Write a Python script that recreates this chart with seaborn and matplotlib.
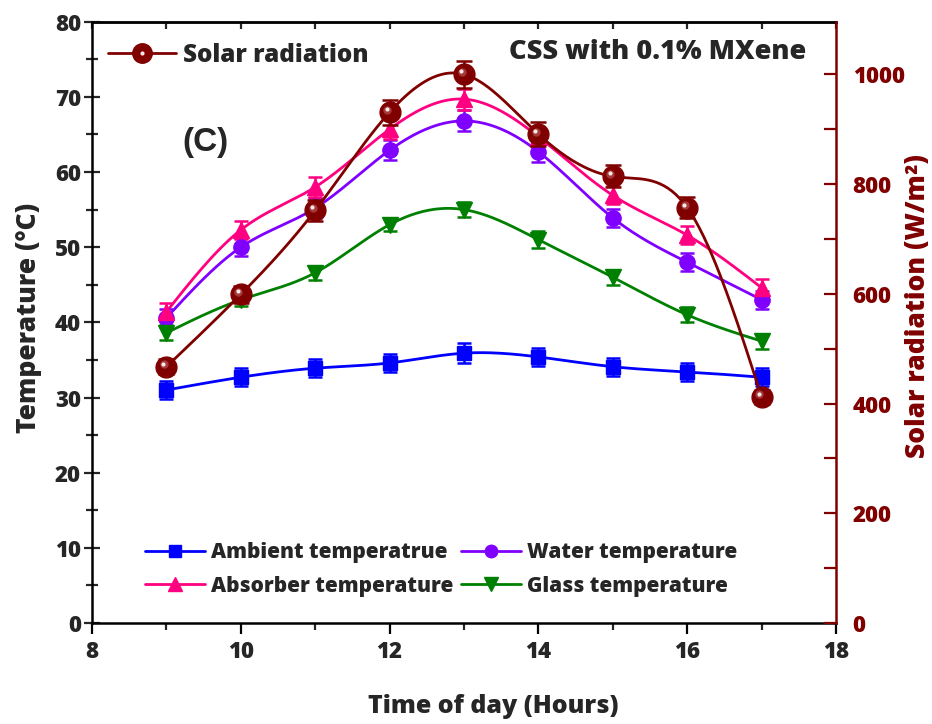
import numpy as np
import matplotlib
matplotlib.use("Agg")
import matplotlib.pyplot as plt
import seaborn as sns
from matplotlib import font_manager as fm
from matplotlib.lines import Line2D
from matplotlib.transforms import offset_copy

# ---- data -------------------------------------------------------------
hours = [9, 10, 11, 12, 13, 14, 15, 16, 17]

ambient = [31.0, 32.7, 33.9, 34.6, 35.9, 35.4, 34.1, 33.4, 32.7]
water = [40.6, 50.0, 55.2, 62.9, 66.8, 62.7, 53.9, 48.0, 43.0]
absorber = [41.4, 52.3, 58.0, 65.7, 69.7, 64.7, 56.9, 51.6, 44.6]
glass = [38.6, 43.0, 46.6, 53.0, 55.0, 51.0, 46.0, 41.0, 37.5]
solar = [467, 599, 752, 931, 1000, 891, 814, 757, 412]

ambient_err = [1.2, 1.2, 1.2, 1.2, 1.3, 1.2, 1.2, 1.2, 1.2]
water_err = [1.2, 1.2, 1.3, 1.3, 1.4, 1.3, 1.2, 1.2, 1.2]
absorber_err = [1.2, 1.2, 1.3, 1.3, 1.4, 1.3, 1.2, 1.2, 1.2]
glass_err = [1.0, 0.8, 0.9, 0.9, 1.0, 1.1, 1.0, 1.0, 1.0]
solar_err = [14, 16, 19, 23, 25, 22, 20, 19, 13]

series_names = ["Ambient temperatrue", "Water temperature",
                "Absorber temperature", "Glass temperature"]

# ---- fonts ------------------------------------------------------------
sns.set_style("ticks")
plt.rcParams["font.family"] = ["Open Sans", "DejaVu Sans"]


def fp(size):
    return fm.FontProperties(family=["Open Sans", "DejaVu Sans"],
                             weight=800, size=size)


def arial_bold(size):
    return fm.FontProperties(family="Liberation Sans", weight="bold", size=size)


# ---- helpers ----------------------------------------------------------
def natural_spline(x, y, num=300):
    """Natural cubic spline through the points, for a smooth connecting line."""
    x = np.asarray(x, float)
    y = np.asarray(y, float)
    n = len(x)
    h = np.diff(x)
    A = np.zeros((n, n))
    b = np.zeros(n)
    A[0, 0] = A[-1, -1] = 1.0
    for i in range(1, n - 1):
        A[i, i - 1] = h[i - 1]
        A[i, i] = 2 * (h[i - 1] + h[i])
        A[i, i + 1] = h[i]
        b[i] = 6 * ((y[i + 1] - y[i]) / h[i] - (y[i] - y[i - 1]) / h[i - 1])
    M = np.linalg.solve(A, b)
    xs = np.linspace(x[0], x[-1], num)
    idx = np.clip(np.searchsorted(x, xs) - 1, 0, n - 2)
    x0, x1 = x[idx], x[idx + 1]
    hh = x1 - x0
    t0, t1 = x1 - xs, xs - x0
    ys = (M[idx] * t0 ** 3 / (6 * hh) + M[idx + 1] * t1 ** 3 / (6 * hh)
          + (y[idx] / hh - M[idx] * hh / 6) * t0
          + (y[idx + 1] / hh - M[idx + 1] * hh / 6) * t1)
    return xs, ys


# ---- figure -----------------------------------------------------------
W, H = 932, 724
fig = plt.figure(figsize=(W / 100, H / 100), dpi=100)
x0p, x1p, ytop, ybot = 92, 836, 21.7, 623
aw, ah = x1p - x0p, ybot - ytop
ax = fig.add_axes([x0p / W, 1 - ybot / H, aw / W, ah / H])
ax2 = ax.twinx()

wine = "#800000"
styles = [
    (ambient, ambient_err, "#0000FF", "s", 10),
    (water, water_err, "#8000FF", "o", 11),
    (absorber, absorber_err, "#FF0080", "^", 12),
    (glass, glass_err, "#008000", "v", 12),
]

handles = []
for name, (vals, err, col, mk, ms) in zip(series_names, styles):
    xs, ys = natural_spline(hours, vals)
    sns.lineplot(x=xs, y=ys, ax=ax, color=col, lw=2.0, sort=False, zorder=2)
    ax.errorbar(hours, vals, yerr=err, fmt=mk, color=col, ms=ms,
                ecolor=col, elinewidth=1.8, capsize=5, capthick=1.8, zorder=3)
    handles.append(Line2D([], [], color=col, lw=2.0, marker=mk, ms=ms - 2))

# Solar radiation on the right axis, drawn as shaded balls
xs, ys = natural_spline(hours, solar)
sns.lineplot(x=xs, y=ys, ax=ax2, color=wine, lw=2.0, sort=False, zorder=2)
ax2.errorbar(hours, solar, yerr=solar_err, fmt="o", color=wine, ms=15,
             ecolor=wine, elinewidth=1.8, capsize=6, capthick=1.8, zorder=3)
shine1 = offset_copy(ax2.transData, fig=fig, x=-1.8, y=1.8, units="points")
shine2 = offset_copy(ax2.transData, fig=fig, x=-2.2, y=2.2, units="points")
ax2.plot(hours, solar, "o", color="#a84040", ms=6, mew=0, alpha=0.9,
         transform=shine1, zorder=4)
ax2.plot(hours, solar, "o", color="#f8e8e8", ms=3, mew=0, transform=shine2, zorder=5)

# ---- axes limits & ticks ---------------------------------------------
ax.set_xlim(8, 18)
ax.set_ylim(0, 80)
ax2.set_ylim(0, 1096)
ax.set_xticks(np.arange(8, 19, 2))
ax.set_xticks(np.arange(9, 18, 2), minor=True)
ax.set_yticks(np.arange(0, 81, 10))
ax.set_yticks(np.arange(5, 80, 10), minor=True)
ax2.set_yticks(np.arange(0, 1001, 200))
ax2.set_yticks(np.arange(100, 1001, 200), minor=True)

for s in ["left", "bottom", "top"]:
    ax.spines[s].set_linewidth(1.8)
    ax.spines[s].set_color("black")
ax.spines["right"].set_visible(False)
for s in ["left", "bottom", "top"]:
    ax2.spines[s].set_visible(False)
ax2.spines["right"].set_color(wine)
ax2.spines["right"].set_linewidth(1.8)

ax.tick_params(axis="x", which="major", direction="out", length=8, width=1.6,
               color="black", pad=4)
ax.tick_params(axis="x", which="minor", direction="out", length=5, width=1.6)
ax.tick_params(axis="y", which="major", direction="inout", length=12, width=1.6,
               pad=2)
ax.tick_params(axis="y", which="minor", direction="inout", length=9, width=1.6)
ax2.tick_params(axis="y", which="both", direction="in", length=9, width=1.6,
                color=wine, labelcolor=wine, pad=12)

top = ax.secondary_xaxis("top")
top.set_xticks(np.arange(8, 19, 1))
top.tick_params(axis="x", direction="in", length=5, width=1.6, labeltop=False)
top.spines["top"].set_linewidth(1.8)

for lbl in ax.get_xticklabels() + ax.get_yticklabels():
    lbl.set_fontproperties(fp(16))
for lbl in ax2.get_yticklabels():
    lbl.set_fontproperties(fp(16))
    lbl.set_color(wine)

ax.set_xlabel("Time of day (Hours)", fontproperties=fp(18))
ax.xaxis.set_label_coords((493 - x0p) / aw, (ybot - 694) / ah)
ax.set_ylabel("Temperature (°C)", fontproperties=fp(19))
ax.yaxis.set_label_coords((42 - x0p) / aw, (ybot - 318) / ah)
ax2.set_ylabel("Solar radiation (W/m²)", fontproperties=fp(19), color=wine)
ax2.yaxis.set_label_coords((905 - x0p) / aw, (ybot - 306) / ah)

# ---- legends & annotations -------------------------------------------
order = [0, 2, 1, 3]
leg = ax.legend([handles[i] for i in order], [series_names[i] for i in order],
                ncol=2, loc="center left",
                bbox_to_anchor=((145 - x0p) / aw, (ybot - 569.5) / ah),
                frameon=False, prop=fp(15), handlelength=2.9, handletextpad=0.28,
                columnspacing=0.35, labelspacing=0.58, borderpad=0, borderaxespad=0)

solar_handle = (Line2D([], [], color=wine, lw=2.0, marker="o", ms=14),
                Line2D([], [], color="#f8e8e8", lw=0, marker="o", ms=3, mew=0))
ax2.legend([solar_handle], ["Solar radiation"], loc="center left",
           bbox_to_anchor=((108 - x0p) / aw, (ybot - 55) / ah),
           frameon=False, prop=fp(17.5), handlelength=2.8, handletextpad=0.3,
           borderpad=0, borderaxespad=0)

ax.text(806, H - 52, "CSS with 0.1% MXene", transform=None, fontproperties=fp(19.5),
        ha="right", va="center")
ax.text(205, H - 143, "(C)", transform=None, fontproperties=arial_bold(24),
        ha="center", va="center")

fig.savefig("out.png", dpi=100)
